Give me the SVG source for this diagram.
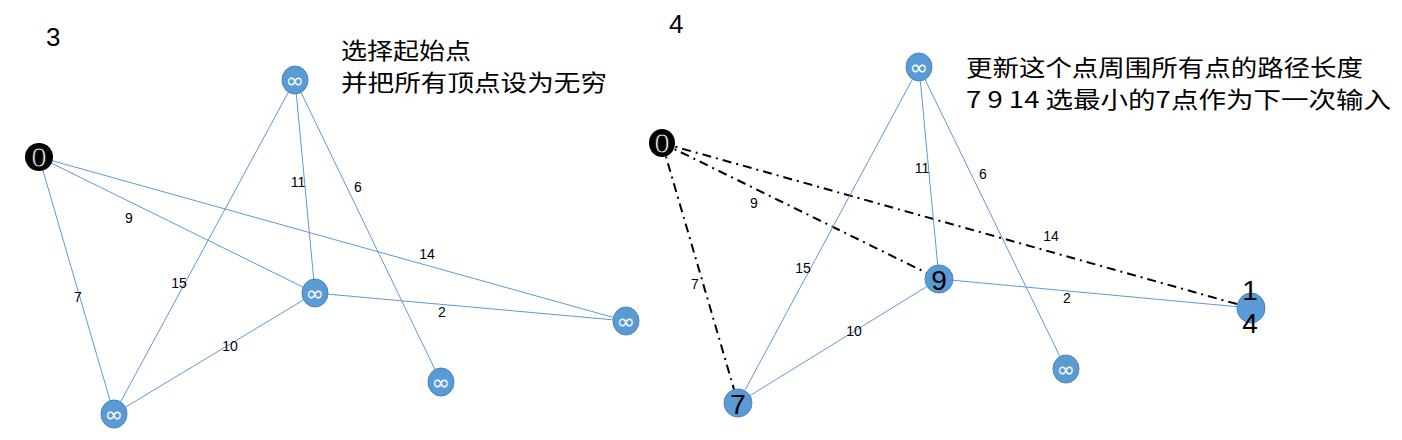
<svg xmlns="http://www.w3.org/2000/svg" width="1402" height="440" viewBox="0 0 1402 440">
<style>
.e{stroke:#5b9bd5;stroke-width:1;fill:none}
.d{stroke:#000;stroke-width:2;fill:none;stroke-dasharray:9 5 2 5}
.n{fill:#5b9bd5;stroke:#4a84bd;stroke-width:1}
.b{fill:#000}
.inf{font-family:"DejaVu Sans",sans-serif;font-size:22px;fill:#fff;text-anchor:middle}
.z{font-family:"Liberation Sans",sans-serif;font-size:27px;fill:#fff;stroke:#000;stroke-width:0.8;text-anchor:middle}
.v{font-family:"Liberation Sans",sans-serif;font-size:28px;fill:#000;text-anchor:middle}
.l{font-family:"Liberation Sans",sans-serif;font-size:14px;fill:#000;text-anchor:middle}
.t{font-family:"Liberation Sans",sans-serif;font-size:26px;fill:#000}
.c{font-family:"Noto Sans CJK SC",sans-serif;font-size:23px;fill:#000}
</style>
<rect width="1402" height="440" fill="#fff"/>
<g id="connectors">
  <line class="e" x1="39" y1="157" x2="114" y2="414"/>
  <line class="e" x1="39" y1="157" x2="315" y2="293"/>
  <line class="e" x1="39" y1="157" x2="626" y2="321"/>
  <line class="e" x1="295" y1="80" x2="114" y2="414"/>
  <line class="e" x1="295" y1="80" x2="315" y2="293"/>
  <line class="e" x1="295" y1="80" x2="441" y2="382"/>
  <line class="e" x1="315" y1="293" x2="626" y2="321"/>
  <line class="e" x1="315" y1="293" x2="114" y2="414"/>
  <line class="d" x1="662" y1="143" x2="738" y2="403"/>
  <line class="d" x1="662" y1="143" x2="939" y2="279"/>
  <line class="d" x1="662" y1="143" x2="1251" y2="308"/>
  <line class="e" x1="919" y1="67" x2="738" y2="403"/>
  <line class="e" x1="919" y1="67" x2="939" y2="279"/>
  <line class="e" x1="919" y1="67" x2="1066" y2="369"/>
  <line class="e" x1="939" y1="279" x2="1251" y2="308"/>
  <line class="e" x1="939" y1="279" x2="738" y2="403"/>
  <text class="l" x="78" y="302">7</text>
  <text class="l" x="129" y="223">9</text>
  <text class="l" x="427" y="259">14</text>
  <text class="l" x="179" y="288">15</text>
  <text class="l" x="298" y="187">11</text>
  <text class="l" x="358" y="192">6</text>
  <text class="l" x="442" y="317">2</text>
  <text class="l" x="230" y="351">10</text>
  <text class="l" x="695" y="289">7</text>
  <text class="l" x="754" y="208">9</text>
  <text class="l" x="1051" y="241">14</text>
  <text class="l" x="803" y="273">15</text>
  <text class="l" x="922" y="173">11</text>
  <text class="l" x="983" y="179">6</text>
  <text class="l" x="1067" y="303">2</text>
  <text class="l" x="854" y="336">10</text>
</g>
<g id="L0"><ellipse class="b" cx="39" cy="157" rx="14" ry="14"/><text class="z" x="39" y="167">0</text></g>
<g id="Ltop"><ellipse class="n" cx="295" cy="80" rx="13" ry="14"/><text class="inf" x="295" y="88">∞</text></g>
<g id="Lmid"><ellipse class="n" cx="315" cy="293" rx="13" ry="14"/><text class="inf" x="315" y="301">∞</text></g>
<g id="Lright"><ellipse class="n" cx="626" cy="321" rx="13" ry="14"/><text class="inf" x="626" y="329">∞</text></g>
<g id="Lbm"><ellipse class="n" cx="441" cy="382" rx="13" ry="14"/><text class="inf" x="441" y="390">∞</text></g>
<g id="Lbl"><ellipse class="n" cx="114" cy="414" rx="13" ry="14"/><text class="inf" x="114" y="422">∞</text></g>
<g id="R0"><ellipse class="b" cx="662" cy="143" rx="13" ry="14"/><text class="z" x="662" y="153">0</text></g>
<g id="Rtop"><ellipse class="n" cx="919" cy="67" rx="13" ry="14"/><text class="inf" x="919" y="75">∞</text></g>
<g id="R9"><ellipse class="n" cx="939" cy="279" rx="14" ry="14"/><text class="v" x="939" y="290">9</text></g>
<g id="R14"><ellipse class="n" cx="1251" cy="308" rx="14" ry="15"/><text class="v" x="1250" y="300">1</text><text class="v" x="1250" y="333">4</text></g>
<g id="Rbm"><ellipse class="n" cx="1066" cy="369" rx="13" ry="14"/><text class="inf" x="1066" y="377">∞</text></g>
<g id="R7"><ellipse class="n" cx="738" cy="403" rx="14" ry="14"/><text class="v" x="738" y="414">7</text></g>
<g id="titles">
  <text class="t" x="46" y="46">3</text>
  <text class="t" x="669" y="33">4</text>
  <text class="c" x="341" y="59" textLength="130" lengthAdjust="spacingAndGlyphs">选择起始点</text>
  <text class="c" x="341" y="91" textLength="266" lengthAdjust="spacingAndGlyphs">并把所有顶点设为无穷</text>
  <text class="c" x="966" y="76" textLength="397" lengthAdjust="spacingAndGlyphs">更新这个点周围所有点的路径长度</text>
  <text class="c" x="966" y="108" textLength="425" lengthAdjust="spacingAndGlyphs">7 9 14 选最小的7点作为下一次输入</text>
</g>
</svg>
